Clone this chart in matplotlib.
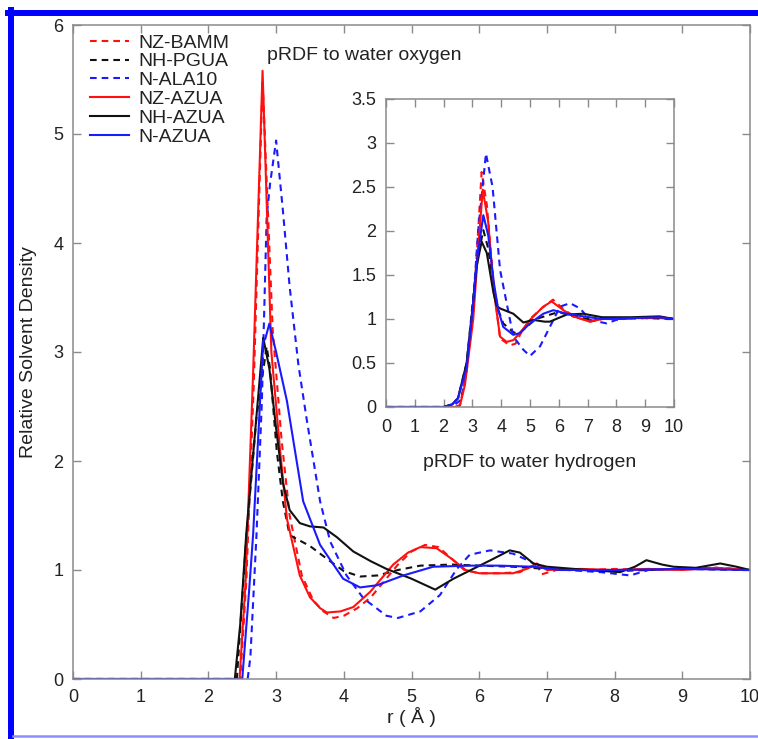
import matplotlib
matplotlib.use("Agg")
import matplotlib.pyplot as plt
from matplotlib.lines import Line2D
from matplotlib.ticker import FormatStrFormatter, MultipleLocator

plt.rcParams['font.family'] = ['Liberation Sans', 'DejaVu Sans']

labels = ['NZ-BAMM', 'NH-PGUA', 'N-ALA10', 'NZ-AZUA', 'NH-AZUA', 'N-AZUA']
colors = ['#ff1010', '#111111', '#1a1aff', '#ff1010', '#111111', '#1a1aff']
dashed = [True, True, True, False, False, False]

# pRDF to water oxygen (main plot)
r_nz_bamm = [0, 2.47, 2.56, 2.67, 2.80, 2.95, 3.08, 3.2, 3.38, 3.55, 3.7, 3.85, 4.0, 4.2, 4.4, 4.6,
             4.8, 5.0, 5.2, 5.4, 5.6, 5.78, 6.0, 6.3, 6.6, 6.8, 6.85, 6.92, 7.2, 7.6, 8.0, 8.5, 9.0, 9.5, 10]
g_nz_bamm = [0, 0, 0.9, 2.7, 5.5, 3.2, 2.2, 1.5, 0.95, 0.72, 0.62, 0.56, 0.58, 0.65, 0.75, 0.9,
             1.05, 1.17, 1.23, 1.21, 1.1, 1.0, 0.97, 0.97, 0.98, 1.04, 1.06, 0.96, 1.01, 1.0, 1.01, 1.0, 1.01, 1.02, 1.0]
r_nh_pgua = [0, 2.42, 2.56, 2.71, 2.86, 2.91, 3.01, 3.1, 3.2, 3.35, 3.5, 3.65, 3.8, 4.0, 4.24, 4.5,
             4.8, 5.13, 5.6, 6.0, 6.5, 7.0, 7.5, 8.0, 9.0, 10]
g_nh_pgua = [0, 0, 1.3, 2.4, 3.05, 2.85, 2.09, 1.63, 1.32, 1.27, 1.22, 1.15, 1.08, 0.99, 0.94, 0.95,
             1.0, 1.04, 1.05, 1.04, 1.03, 1.01, 1.0, 0.99, 1.01, 1.0]
r_n_ala10 = [0, 2.58, 2.62, 2.71, 2.79, 2.86, 2.91, 3.0, 3.1, 3.2, 3.33, 3.45, 3.65, 3.8, 4.04, 4.29,
             4.63, 4.8, 5.13, 5.42, 5.67, 5.86, 6.16, 6.5, 6.75, 6.9, 7.3, 7.8, 8.23, 8.5, 9.0, 9.5, 10]
g_n_ala10 = [0, 0, 0.2, 1.32, 2.55, 4.23, 4.54, 4.94, 4.3, 3.6, 2.88, 2.39, 1.63, 1.26, 0.95, 0.74,
             0.58, 0.56, 0.62, 0.77, 1.01, 1.14, 1.18, 1.15, 1.08, 1.02, 1.0, 0.98, 0.95, 1.0, 1.01, 1.02, 1.0]
r_nz_azua = [0, 2.46, 2.55, 2.66, 2.80, 2.93, 3.06, 3.16, 3.35, 3.5, 3.65, 3.75, 3.95, 4.14, 4.39, 4.73,
             4.95, 5.13, 5.37, 5.6, 5.8, 6.0, 6.5, 6.7, 6.85, 7.0, 7.5, 8.0, 8.5, 9.0, 9.5, 10]
g_nz_azua = [0, 0, 0.9, 2.8, 5.58, 3.0, 2.09, 1.47, 0.95, 0.75, 0.65, 0.61, 0.62, 0.66, 0.80, 1.05,
             1.16, 1.21, 1.20, 1.10, 1.0, 0.97, 0.97, 1.01, 1.06, 1.0, 1.01, 1.0, 1.01, 1.0, 1.02, 1.0]
r_nh_azua = [0, 2.39, 2.47, 2.56, 2.71, 2.81, 2.9, 3.0, 3.1, 3.2, 3.35, 3.5, 3.7, 3.9, 4.14, 4.4, 4.63,
             5.0, 5.35, 5.62, 5.91, 6.2, 6.45, 6.6, 6.8, 7.0, 7.4, 8.08, 8.3, 8.47, 8.7, 8.87, 9.2, 9.56, 9.8, 10]
g_nh_azua = [0, 0, 0.5, 1.34, 2.41, 3.13, 2.85, 2.3, 1.8, 1.55, 1.43, 1.40, 1.39, 1.3, 1.17, 1.08, 1.01,
             0.92, 0.82, 0.92, 1.01, 1.1, 1.18, 1.16, 1.06, 1.03, 1.01, 0.98, 1.03, 1.09, 1.05, 1.03, 1.02, 1.06, 1.03, 1.0]
r_n_azua = [0, 2.5, 2.6, 2.66, 2.81, 2.84, 2.9, 3.0, 3.16, 3.4, 3.65, 3.99, 4.24, 4.49, 4.88, 5.32,
            5.86, 6.3, 6.8, 7.2, 8.0, 9.0, 10]
g_n_azua = [0, 0, 0.8, 1.32, 3.1, 3.12, 3.26, 3.0, 2.55, 1.63, 1.23, 0.92, 0.84, 0.86, 0.95, 1.03,
            1.04, 1.04, 1.03, 1.0, 1.0, 1.01, 1.0]

# pRDF to water hydrogen (inset)
ri_nz_bamm = [0, 2.4, 2.57, 2.74, 3.03, 3.2, 3.32, 3.5, 3.75, 3.96, 4.3, 4.5, 4.7, 5.0, 5.4, 5.8,
              6.2, 6.6, 7.1, 7.5, 8.5, 9.5, 10]
gi_nz_bamm = [0, 0, 0.02, 0.3, 1.1, 2.0, 2.67, 2.3, 1.35, 0.78, 0.70, 0.72, 0.85, 1.0, 1.12, 1.22,
              1.1, 1.02, 0.97, 1.0, 1.01, 1.01, 1.0]
ri_nh_pgua = [0, 2.0, 2.3, 2.5, 2.8, 3.03, 3.15, 3.38, 3.55, 3.75, 3.9, 4.07, 4.42, 4.6, 5.2, 6.0,
              6.5, 7.0, 8.0, 9.0, 10]
gi_nh_pgua = [0, 0, 0.03, 0.1, 0.5, 1.25, 1.65, 2.01, 1.8, 1.35, 1.1, 0.95, 0.85, 0.83, 1.0, 1.08,
              1.03, 1.0, 1.0, 1.01, 1.0]
ri_n_ala10 = [0, 2.1, 2.4, 2.6, 2.8, 3.03, 3.2, 3.47, 3.7, 3.96, 4.19, 4.42, 4.77, 5.0, 5.35, 5.69,
              6.04, 6.39, 6.74, 7.08, 7.66, 8.0, 8.5, 9.5, 10]
gi_n_ala10 = [0, 0, 0.03, 0.08, 0.4, 1.2, 2.0, 2.88, 2.5, 1.56, 1.18, 0.80, 0.65, 0.58, 0.69, 0.91,
              1.14, 1.18, 1.12, 0.99, 0.95, 0.99, 1.01, 1.02, 1.0]
ri_nz_azua = [0, 2.4, 2.57, 2.74, 3.03, 3.2, 3.36, 3.55, 3.75, 3.96, 4.19, 4.42, 4.65, 5.0, 5.46, 5.75,
              6.16, 6.5, 7.08, 7.5, 8.5, 9.5, 10]
gi_nz_azua = [0, 0, 0.02, 0.25, 1.0, 1.8, 2.47, 2.1, 1.3, 0.80, 0.74, 0.76, 0.84, 0.99, 1.14, 1.20,
              1.10, 1.03, 0.97, 1.0, 1.01, 1.02, 1.0]
ri_nh_azua = [0, 2.0, 2.3, 2.5, 2.8, 3.03, 3.15, 3.32, 3.5, 3.73, 3.84, 3.96, 4.42, 4.77, 5.11, 5.5,
              5.69, 6.27, 6.85, 7.5, 8.5, 9.5, 10]
gi_nh_azua = [0, 0, 0.03, 0.1, 0.5, 1.2, 1.6, 1.88, 1.75, 1.3, 1.15, 1.12, 1.06, 0.96, 0.99, 0.97,
              0.97, 1.05, 1.06, 1.02, 1.02, 1.03, 1.0]
ri_n_azua = [0, 2.0, 2.3, 2.5, 2.8, 3.03, 3.15, 3.38, 3.55, 3.75, 3.9, 4.07, 4.42, 4.65, 5.0, 5.46,
             5.81, 6.27, 6.85, 7.5, 8.5, 9.5, 10]
gi_n_azua = [0, 0, 0.03, 0.1, 0.45, 1.2, 1.65, 2.18, 1.95, 1.4, 1.1, 0.91, 0.82, 0.84, 0.95, 1.06,
             1.10, 1.06, 1.03, 1.0, 1.01, 1.02, 1.0]

main_r = [r_nz_bamm, r_nh_pgua, r_n_ala10, r_nz_azua, r_nh_azua, r_n_azua]
main_g = [g_nz_bamm, g_nh_pgua, g_n_ala10, g_nz_azua, g_nh_azua, g_n_azua]
inset_r = [ri_nz_bamm, ri_nh_pgua, ri_n_ala10, ri_nz_azua, ri_nh_azua, ri_n_azua]
inset_g = [gi_nz_bamm, gi_nh_pgua, gi_n_ala10, gi_nz_azua, gi_nh_azua, gi_n_azua]

spine_col = '#8a8a8a'
text_col = '#222222'


def style_axes(ax, xpad, ypad):
    for s in ax.spines.values():
        s.set_color(spine_col)
        s.set_linewidth(1.1)
    ax.tick_params(direction='in', top=True, right=True, length=5.5, width=1.0,
                   color=spine_col, labelcolor=text_col, labelsize=13)
    ax.tick_params(axis='x', pad=xpad)
    ax.tick_params(axis='y', pad=ypad)


fig = plt.figure(figsize=(7.58, 7.39), dpi=100)
ax = fig.add_axes([73 / 758, 1 - 679 / 739, 677 / 758, 654 / 739])

for rr, gg, lab, c, d in zip(main_r, main_g, labels, colors, dashed):
    ls = (0, (3.2, 2.4)) if d else '-'
    ax.plot(rr, gg, color=c, lw=1.5, ls=ls, label=lab)

ax.set_xlim(0, 10)
ax.set_ylim(0, 6)
ax.xaxis.set_major_locator(MultipleLocator(1))
ax.yaxis.set_major_locator(MultipleLocator(1))
style_axes(ax, 7, 7)
ax.set_xlabel('r ( Å )', fontsize=14, color=text_col)
ax.set_ylabel('Relative Solvent Density', fontsize=14, color=text_col)
ax.xaxis.set_label_coords(0.5, (679 - 707) / 654)
ax.yaxis.set_label_coords((37 - 73) / 677, 0.5)
ax.text(2.87, 5.72, 'pRDF to water oxygen', fontsize=14, color=text_col,
        ha='left', va='center')

leg = ax.legend(loc='upper left', bbox_to_anchor=((90 - 73) / 677, (679 - 34) / 654),
                frameon=False, fontsize=14, borderpad=0, borderaxespad=0,
                handlelength=2.0, handletextpad=0.5, labelspacing=0.06)
for t in leg.get_texts():
    t.set_color(text_col)

# inset
axi = fig.add_axes([386 / 758, 1 - 407 / 739, 288 / 758, 308 / 739])
for rr, gg, c, d in zip(inset_r, inset_g, colors, dashed):
    ls = (0, (3.2, 2.4)) if d else '-'
    axi.plot(rr, gg, color=c, lw=1.5, ls=ls)
axi.set_xlim(0, 10)
axi.set_ylim(0, 3.5)
axi.xaxis.set_major_locator(MultipleLocator(1))
axi.yaxis.set_major_locator(MultipleLocator(0.5))
axi.yaxis.set_major_formatter(FormatStrFormatter('%g'))
style_axes(axi, 9, 7)
axi.set_xlabel('pRDF to water hydrogen', fontsize=14, color=text_col)
axi.xaxis.set_label_coords(0.5, (407 - 454) / 308)

# blue frame around the figure
fig.add_artist(Line2D([10.5 / 758, 10.5 / 758], [0, 1 - 10 / 739], transform=fig.transFigure,
                      color='#0000ff', lw=4.3))
fig.add_artist(Line2D([8 / 758, 1], [1 - 13 / 739, 1 - 13 / 739], transform=fig.transFigure,
                      color='#0000ff', lw=4.3))
fig.add_artist(Line2D([13 / 758, 1], [1 - 735.5 / 739, 1 - 735.5 / 739], transform=fig.transFigure,
                      color='#8c8cff', lw=1.8))

fig.savefig('out.png', dpi=100)
